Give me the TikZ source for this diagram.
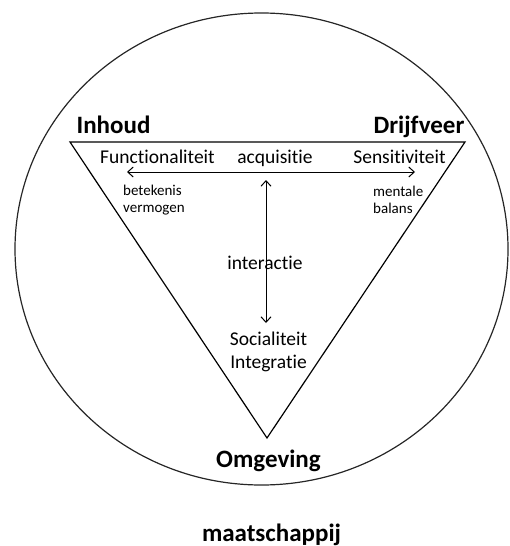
\documentclass[tikz,border=0pt]{standalone}
\usepackage{fontspec}
\setmainfont{Carlito}[Ligatures={NoCommon}]
\usepackage{tikz}
\usetikzlibrary{positioning, arrows.meta, calc}

\tikzset{
	hoek/.style={font=\fontsize{25}{28}\selectfont\bfseries, anchor=base},
	begrip/.style={font=\fontsize{19.5}{23}\selectfont, anchor=base},
	klein/.style={font=\fontsize{15}{17}\selectfont, align=left, anchor=base west},
	pijl/.style={line width=1pt, {Straight Barb[length=5.5pt,width=10pt]}-{Straight Barb[length=5.5pt,width=10pt]}}
}

\begin{document}
\begin{tikzpicture}[x=1pt, y=-1pt, every node/.style={inner sep=0pt}]
		\useasboundingbox (0,0) rectangle (509,546);
		\pgfmathsetmacro{\midx}{266}
		\pgfmathsetmacro{\topy}{142}
		
		% cirkel en driehoek
		\draw[black!85, line width=1.2pt] (261.5,249) ellipse (246.5 and 236);
		\coordinate (links) at (70,\topy);
		\coordinate (rechts) at (465,\topy);
		\coordinate (onder) at (267,438);
		\draw[line width=1.2pt, line join=miter] (links) -- (rechts) -- (onder) -- cycle;
		
		% hoeken
		\node[hoek] (inhoud) at (113.5,133) {Inhoud};
		\node[hoek] (drijfveer) at (419,133) {Drijfveer};
		\node[hoek] (omgeving) at (268.5,467) {Omgeving};
		\node[hoek] (maatschappij) at (271.5,541) {maatschappij};
		
		% begrippen (base = onderste regel)
		\node[begrip] (functie) at (157.5,163) {Functionaliteit};
		\node[begrip] (acquisitie) at (275,163) {acquisitie};
		\node[begrip] (sensitief) at (399.5,163) {Sensitiviteit};
		\node[begrip] (interactie) at (265,269) {interactie};
		\node[begrip, align=center] (sociaal) at (268.5,368) {Socialiteit\\Integratie};
		\node[klein] (betekenis) at (123,212) {betekenis\\vermogen};
		\node[klein] (mentaal) at (373,213) {mentale\\balans};
		
		% pijlen
		\coordinate (hl) at (127,172);
		\coordinate (hr) at (415,172);
		\coordinate (vb) at (\midx,180);
		\coordinate (vo) at (\midx,323);
		\draw[pijl] (hl) -- (hr);
		\draw[pijl] (vb) -- (vo);
\end{tikzpicture}
\end{document}
